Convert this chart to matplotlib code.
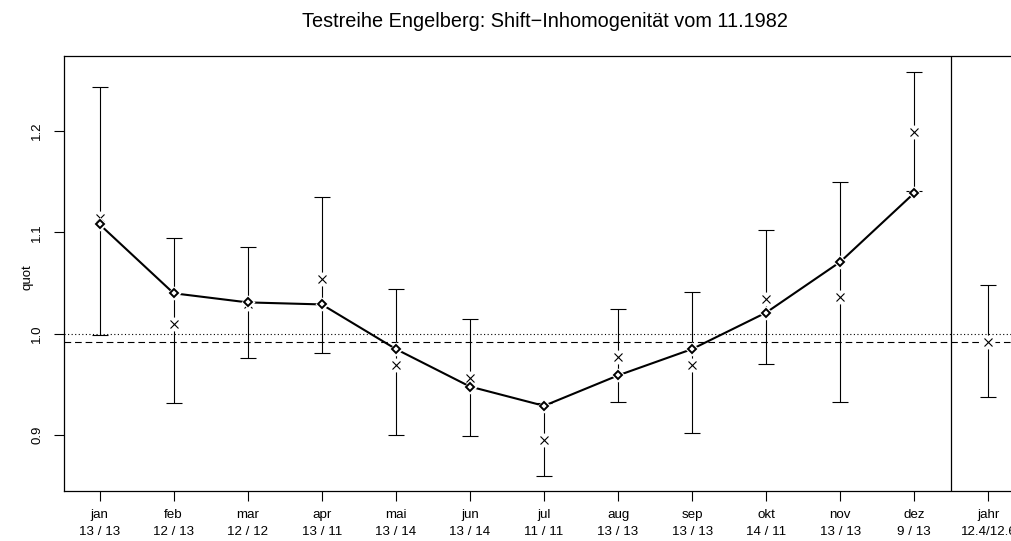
import matplotlib.pyplot as plt
import numpy as np

plt.rcParams['font.family'] = ['Liberation Sans', 'DejaVu Sans']

# monthly shift quotients with confidence bands, plus the yearly value
months = ["jan", "feb", "mar", "apr", "mai", "jun", "jul", "aug", "sep", "okt", "nov", "dez", "jahr"]
counts = ["13 / 13", "12 / 13", "12 / 12", "13 / 11", "13 / 14", "13 / 14", "11 / 11",
          "13 / 13", "13 / 13", "14 / 11", "13 / 13", "9 / 13", "12.4/12.6"]
quot_est = [1.114, 1.010, 1.029, 1.054, 0.969, 0.956, 0.895, 0.977, 0.969, 1.034, 1.036, 1.199, 0.992]
quot_lo = [0.999, 0.932, 0.976, 0.981, 0.900, 0.899, 0.860, 0.933, 0.902, 0.970, 0.933, 1.141, 0.938]
quot_hi = [1.243, 1.095, 1.086, 1.135, 1.044, 1.015, 0.932, 1.024, 1.041, 1.102, 1.150, 1.258, 1.048]
quot_smooth = [1.108, 1.040, 1.031, 1.029, 0.985, 0.948, 0.929, 0.959, 0.985, 1.021, 1.071, 1.139]
ref_level = 1.0
mean_level = 0.992

x = np.arange(1, len(months) + 1)
xm = x[:12]
est = np.array(quot_est)
lo = np.array(quot_lo)
hi = np.array(quot_hi)

fig = plt.figure(figsize=(10.11, 5.41), dpi=100)
ax = fig.add_axes([64 / 1011, 50 / 541, 960 / 1011, 435 / 541])

ax.axhline(ref_level, color="black", lw=0.8, ls=(0, (1, 2.2)), zorder=1)
ax.axhline(mean_level, color="black", lw=0.8, ls=(0, (6, 3.5)), zorder=1)
ax.axvline(12.5, color="black", lw=0.9, zorder=1)

ax.errorbar(x, est, yerr=[est - lo, hi - est], fmt="none", ecolor="black",
            elinewidth=0.8, capsize=6, capthick=0.8, zorder=2)
# white halo so the bars stop short of the crosses
ax.plot(x, est, "o", ms=10, mfc="white", mec="none", zorder=3)
ax.plot(x, est, "x", ms=5.5, mew=0.8, color="black", zorder=4)

ax.plot(xm, quot_smooth, "-", color="black", lw=1.5, zorder=5)
ax.plot(xm, quot_smooth, "D", ms=7, mfc="white", mec="none", zorder=6)
ax.plot(xm, quot_smooth, "D", ms=4, mfc="white", mec="black", mew=1.4, zorder=7)

ax.set_xlim(0.52, 13.48)
ax.set_ylim(0.845, 1.274)
ax.set_xticks(x)
ax.set_xticklabels([f"{m}\n{c}" for m, c in zip(months, counts)], fontsize=9.6)
for lab in ax.get_xticklabels():
    lab.set_linespacing(1.5)
ax.set_yticks([0.9, 1.0, 1.1, 1.2])
ax.set_yticklabels(["0.9", "1.0", "1.1", "1.2"], fontsize=9.5, rotation=90, va="center")
ax.tick_params(axis="both", direction="out", length=7, width=0.8)
ax.tick_params(axis="x", pad=6)
ax.tick_params(axis="y", pad=8)
for sp in ax.spines.values():
    sp.set_linewidth(0.9)

fig.text(27 / 1011, 1 - 277 / 541, "quot", rotation=90, fontsize=9.5, ha="center", va="center")
fig.text(545 / 1011, 1 - 27 / 541, "Testreihe Engelberg: Shift\u2212Inhomogenität vom 11.1982",
         fontsize=14.3, ha="center", va="baseline")

fig.savefig("out.png", dpi=100)
